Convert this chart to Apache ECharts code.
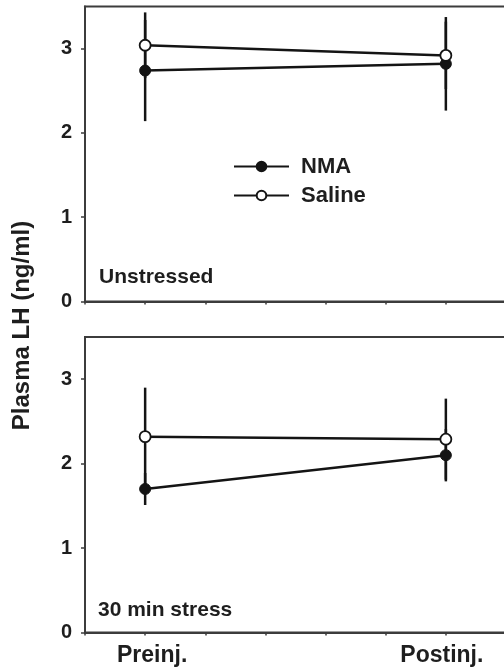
<!DOCTYPE html>
<html>
<head>
<meta charset="utf-8">
<script src="https://cdn.jsdelivr.net/npm/echarts@6/dist/echarts.min.js"></script>
<style>
  html, body { margin: 0; padding: 0; background: #fff; }
  #main { width: 504px; height: 670px; }
</style>
</head>
<body>
<div id="main"></div>
<script>
// x categories and where they sit on the 0..7 axis
const categories = ['Preinj.', 'Postinj.']
const xPos = [1, 6]
const yTicks = [0, 1, 2, 3]

// Unstressed panel
const nmaTop = [2.74, 2.82]
const nmaTopErr = [0.60, 0.555]
const salTop = [3.04, 2.92]
const salTopErr = [0.39, 0.40]

// 30 min stress panel
const nmaBot = [1.70, 2.10]
const nmaBotErr = [0.19, 0.31]
const salBot = [2.32, 2.29]
const salBotErr = [0.58, 0.48]

const FONT = 'Liberation Sans, Arial, sans-serif'
const AXIS = '#3c3c3c'
const INK = '#141414'

const pts = (vals) => vals.map((v, i) => [xPos[i], v])
const errs = (vals, e) => vals.map((v, i) => [xPos[i], v - e[i], v + e[i]])

function xAxisFor(gridIndex, showLabels) {
	return {
		type: 'value', gridIndex, min: 0, max: 7, interval: 1,
		axisLine: { show: true, lineStyle: { color: AXIS, width: 2 } },
		axisTick: { show: true, length: 3, lineStyle: { color: AXIS, width: 1.5 } },
		splitLine: { show: false },
		axisLabel: {
			show: showLabels,
			customValues: xPos,
			// the labels sit a little off the points in the original
			formatter: (v) => (v === xPos[0] ? '{a|' : '{b|') + categories[xPos.indexOf(v)] + '}',
			rich: {
				a: { fontFamily: FONT, fontWeight: 'bold', fontSize: 23, color: '#1e1e1e', padding: [0, 0, 0, 14] },
				b: { fontFamily: FONT, fontWeight: 'bold', fontSize: 23, color: '#1e1e1e', padding: [0, 8, 0, 0] }
			},
			margin: 12
		}
	}
}

function yAxisFor(gridIndex) {
	return {
		type: 'value', gridIndex, min: 0, max: 3.5, interval: 1,
		axisLine: { show: true, lineStyle: { color: AXIS, width: 2 } },
		axisTick: { show: true, length: 4, customValues: yTicks, lineStyle: { color: AXIS, width: 1.5 } },
		splitLine: { show: false },
		axisLabel: {
			customValues: yTicks,
			fontFamily: FONT, fontWeight: 'bold', fontSize: 20, color: '#1e1e1e',
			margin: 13
		}
	}
}

function lineSeries(name, data, idx, open) {
	return {
		type: 'line', name, data, xAxisIndex: idx, yAxisIndex: idx,
		symbol: 'circle', symbolSize: 11, z: 3,
		lineStyle: { color: INK, width: 2.5 },
		itemStyle: open
			? { color: '#fff', borderColor: INK, borderWidth: 1.8 }
			: { color: INK, borderColor: INK, borderWidth: 1 },
		emphasis: { disabled: true },
		animation: false
	}
}

function errSeries(data, idx) {
	return {
		type: 'custom', name: 'err', xAxisIndex: idx, yAxisIndex: idx, z: 2,
		data,
		encode: { x: 0, y: [1, 2] },
		renderItem: (params, api) => {
			const a = api.coord([api.value(0), api.value(1)])
			const b = api.coord([api.value(0), api.value(2)])
			return {
				type: 'line',
				shape: { x1: a[0], y1: a[1], x2: b[0], y2: b[1] },
				style: { stroke: INK, lineWidth: 2.5 }
			}
		},
		animation: false
	}
}

const chart = echarts.init(document.getElementById('main'))
chart.setOption({
	backgroundColor: '#fff',
	animation: false,
	grid: [
		{ left: 85, top: 6.5, width: 421, height: 295, show: true, borderColor: AXIS, borderWidth: 2, outerBoundsMode: 'none' },
		{ left: 85, top: 337, width: 421, height: 295.5, show: true, borderColor: AXIS, borderWidth: 2, outerBoundsMode: 'none' }
	],
	xAxis: [xAxisFor(0, false), xAxisFor(1, true)],
	yAxis: [yAxisFor(0), yAxisFor(1)],
	legend: {
		data: ['NMA', 'Saline'],
		orient: 'vertical',
		left: 233, top: 153.5, padding: 0,
		itemWidth: 55, itemHeight: 12, itemGap: 3,
		selectedMode: false,
		textStyle: { fontFamily: FONT, fontWeight: 'bold', fontSize: 22, color: '#1e1e1e', lineHeight: 26, padding: [0, 0, 0, 7] }
	},
	graphic: [
		{ type: 'text', x: 22, y: 325.5, rotation: Math.PI / 2,
			style: { text: 'Plasma LH (ng/ml)', font: 'bold 24px ' + FONT, fill: '#1e1e1e', align: 'center', verticalAlign: 'middle' } },
		{ type: 'text', x: 99, y: 277, style: { text: 'Unstressed', font: 'bold 21px ' + FONT, fill: '#1e1e1e', verticalAlign: 'middle' } },
		{ type: 'text', x: 98, y: 610, style: { text: '30 min stress', font: 'bold 21px ' + FONT, fill: '#1e1e1e', verticalAlign: 'middle' } }
	],
	series: [
		errSeries(errs(nmaTop, nmaTopErr), 0),
		errSeries(errs(salTop, salTopErr), 0),
		errSeries(errs(nmaBot, nmaBotErr), 1),
		errSeries(errs(salBot, salBotErr), 1),
		lineSeries('NMA', pts(nmaTop), 0, false),
		lineSeries('Saline', pts(salTop), 0, true),
		lineSeries('NMA', pts(nmaBot), 1, false),
		lineSeries('Saline', pts(salBot), 1, true)
	]
})
</script>
</body>
</html>
